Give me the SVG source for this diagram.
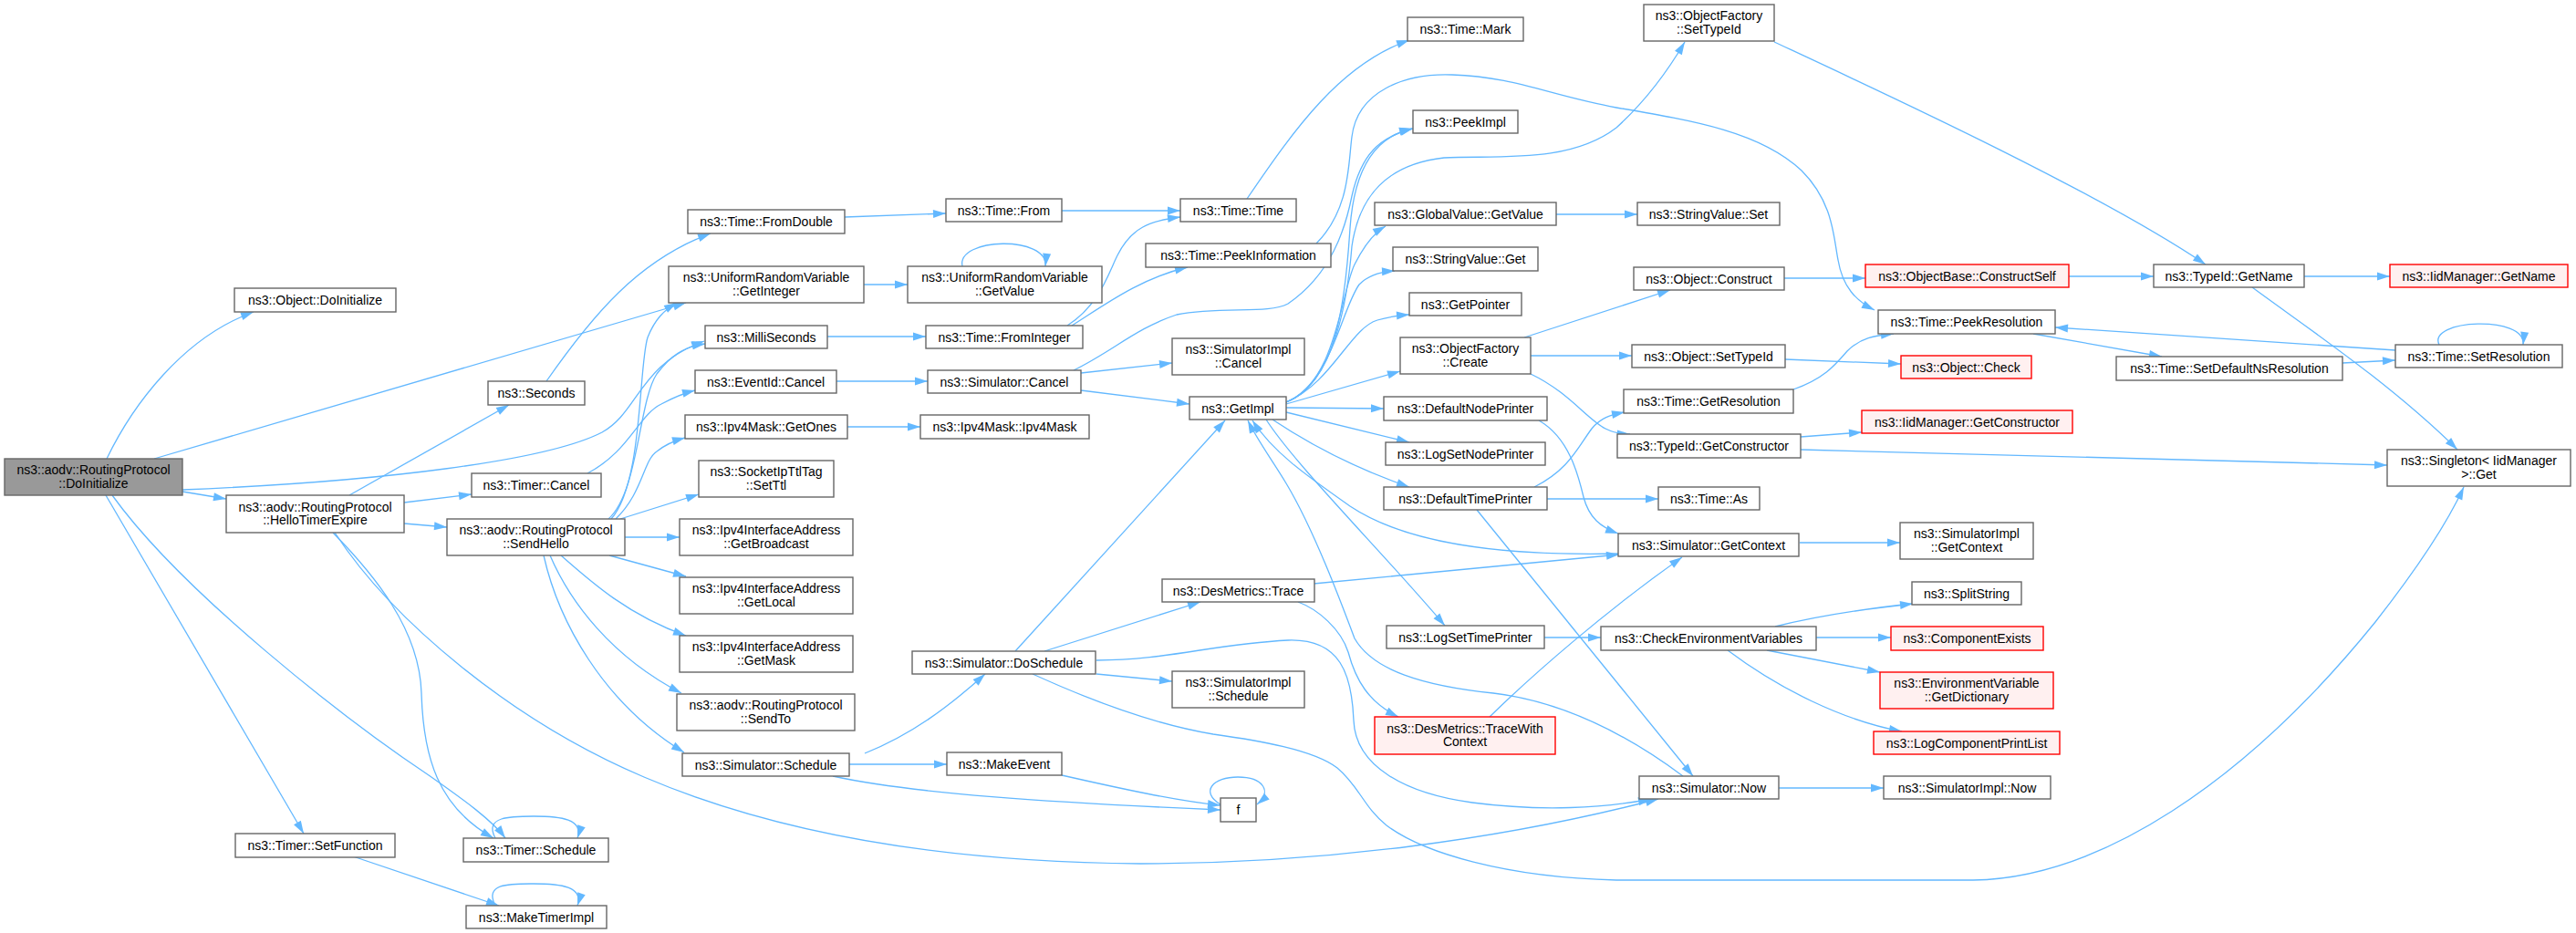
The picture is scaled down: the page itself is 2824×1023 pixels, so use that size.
<svg xmlns="http://www.w3.org/2000/svg" width="2824" height="1023" viewBox="0 0 2824 1023">
<style>
.n rect{fill:#ffffff;stroke:#666666;stroke-width:1.4}
.r rect{fill:#fff0f0;stroke:#ff0000;stroke-width:1.4}
.g rect{fill:#999999;stroke:#666666;stroke-width:1.4}
text{font-family:'Liberation Sans',Arial,sans-serif;font-size:14px;text-anchor:middle;fill:#000000}
#edges path{fill:none;stroke:#63b8ff;stroke-width:1.3;marker-end:url(#a)}
</style>
<defs>
<marker id="a" markerWidth="14" markerHeight="10" refX="14" refY="5" orient="auto" markerUnits="userSpaceOnUse" overflow="visible"><path d="M0,0.5 L14,5 L0,9.5 z" fill="#63b8ff" stroke="none"/></marker>
</defs>
<rect x="0" y="0" width="2824" height="1023" fill="#ffffff"/>
<g id="edges">
<path d="M117,503 C145,445 200,370 278,342"/>
<path d="M169,503 L752,332"/>
<path d="M200,537 C420,528 600,505 660,474 C700,452 700,400 772,374"/>
<path d="M200,539 L248,547"/>
<path d="M116,543 L333,914"/>
<path d="M123,543 C200,650 380,790 470,850 C510,878 540,900 554,919"/>
<path d="M383,543 L558,444"/>
<path d="M443,551 L517,542"/>
<path d="M443,574 L490,578"/>
<path d="M365,584 C410,630 460,690 462,760 C464,830 480,885 541,919"/>
<path d="M367,584 C430,680 560,790 706,852 C830,905 1000,945 1250,947 C1450,947 1650,920 1818,876"/>
<path d="M599,418 C650,345 700,285 779,256"/>
<path d="M644,519 C690,495 700,455 725,443 C740,435 750,431 762,428"/>
<path d="M667,569 C700,540 700,440 720,410 C735,390 750,380 773,377"/>
<path d="M670,569 C705,530 700,400 710,370 C718,350 728,340 742,332"/>
<path d="M675,569 C705,540 705,505 720,495 C730,487 740,483 751,480"/>
<path d="M680,569 L766,542"/>
<path d="M685,589 L745,589"/>
<path d="M668,609 L752,632"/>
<path d="M615,609 C650,640 690,675 752,697"/>
<path d="M603,609 C625,660 670,720 747,760"/>
<path d="M596,609 C612,680 660,770 750,825"/>
<path d="M926,238 L1037,234"/>
<path d="M1164,231 L1294,231"/>
<path d="M1367,218 C1420,140 1470,70 1545,44"/>
<path d="M947,312 L995,312"/>
<path d="M1055,292 C1048,260 1150,258 1146,292"/>
<path d="M907,369 L1015,369"/>
<path d="M1170,357 C1205,335 1215,300 1225,280 C1240,250 1260,242 1294,238"/>
<path d="M1175,357 C1210,335 1250,305 1302,293"/>
<path d="M1443,267 C1480,230 1478,180 1482,150 C1488,100 1540,80 1592,82 C1660,84 1700,105 1772,118 C1860,133 1930,145 1975,187 C2010,222 2010,260 2015,285 C2020,315 2035,330 2055,340"/>
<path d="M1185,409 L1285,398"/>
<path d="M1185,428 L1304,443"/>
<path d="M1177,406 C1220,385 1245,360 1290,345 C1340,335 1390,345 1412,333 C1460,300 1475,250 1482,215 C1492,170 1512,150 1549,141"/>
<path d="M917,418 L1017,418"/>
<path d="M929,468 L1009,468"/>
<path d="M948,826 C1000,805 1040,775 1080,739"/>
<path d="M931,838 L1038,838"/>
<path d="M913,851 C1000,870 1150,880 1338,888"/>
<path d="M1164,850 C1230,865 1290,878 1338,883"/>
<path d="M1338,882 C1315,868 1330,852 1357,852 C1385,852 1395,868 1378,882"/>
<path d="M1202,739 L1285,747"/>
<path d="M1145,714 L1316,660"/>
<path d="M1113,714 L1343,461"/>
<path d="M1202,724 C1280,724 1330,706 1412,702 C1470,700 1482,740 1484,790 C1486,840 1540,870 1614,880 C1690,890 1760,886 1810,876"/>
<path d="M1132,739 C1200,770 1270,795 1330,805 C1380,812 1440,822 1466,842 C1490,862 1495,885 1520,905 C1560,935 1650,962 1772,965 L2163,965 C2300,963 2460,860 2604,682 C2640,636 2680,580 2701,534"/>
<path d="M1440,640 L1775,608"/>
<path d="M1423,660 C1445,668 1470,690 1478,715 C1486,745 1500,770 1533,786"/>
<path d="M1633,786 C1680,740 1760,670 1844,611"/>
<path d="M1410,441 C1465,420 1475,330 1480,250 C1485,180 1510,150 1548,141"/>
<path d="M1410,441 C1465,420 1478,320 1482,270 C1490,215 1520,180 1583,173 C1640,170 1720,180 1772,140 C1805,110 1830,75 1847,46"/>
<path d="M1410,441 C1465,420 1470,320 1485,290 C1495,270 1505,256 1519,248"/>
<path d="M1410,441 C1460,420 1470,340 1490,312 C1500,302 1512,298 1529,297"/>
<path d="M1410,441 C1460,420 1480,360 1510,351 C1520,348 1532,346 1545,345"/>
<path d="M1410,443 L1535,407"/>
<path d="M1410,447 L1517,448"/>
<path d="M1410,452 L1545,485"/>
<path d="M1395,460 C1440,490 1490,515 1545,534"/>
<path d="M1388,460 C1420,510 1520,610 1584,686"/>
<path d="M1775,607 C1640,610 1540,595 1480,555 C1430,520 1395,495 1373,461"/>
<path d="M1845,851 C1790,810 1720,770 1637,760 C1560,752 1505,735 1485,700 C1470,660 1440,580 1410,530 C1395,505 1378,482 1368,461"/>
<path d="M1706,235 L1795,235"/>
<path d="M1678,390 L1789,390"/>
<path d="M1678,410 C1720,430 1740,460 1760,470 C1770,475 1778,476 1787,476"/>
<path d="M1671,370 L1831,318"/>
<path d="M1956,305 L2045,305"/>
<path d="M2268,303 L2361,303"/>
<path d="M2526,303 L2620,303"/>
<path d="M2469,315 C2530,360 2620,420 2694,493"/>
<path d="M1945,46 C2050,95 2300,210 2418,290"/>
<path d="M1957,394 L2084,399"/>
<path d="M1974,479 L2041,474"/>
<path d="M1974,493 L2617,510"/>
<path d="M1966,427 C2000,415 2012,400 2025,385 C2040,370 2055,368 2076,366"/>
<path d="M2229,366 L2370,391"/>
<path d="M2568,398 L2626,395"/>
<path d="M2626,384 L2253,359"/>
<path d="M2674,378 C2660,350 2770,345 2766,378"/>
<path d="M1687,461 C1720,480 1730,520 1736,545 C1742,568 1755,578 1774,585"/>
<path d="M1682,534 C1720,515 1730,490 1745,470 C1755,458 1765,455 1781,452"/>
<path d="M1696,547 L1818,547"/>
<path d="M1619,559 L1856,851"/>
<path d="M1693,699 L1755,699"/>
<path d="M1946,687 C1990,676 2040,668 2097,662"/>
<path d="M1991,699 L2073,699"/>
<path d="M1937,713 L2061,737"/>
<path d="M1894,713 C1950,755 2020,790 2085,802"/>
<path d="M1950,864 L2065,864"/>
<path d="M1973,595 L2083,595"/>
<path d="M387,939 L547,993"/>
<path d="M543,993 C530,968 560,969 585,969 C615,969 640,972 633,993"/>
<path d="M543,919 C530,895 560,895 585,895 C615,895 640,898 633,919"/>
</g>
<g id="root" class="g"><rect x="5" y="503" width="195" height="40"/><text x="102.5" y="520">ns3::aodv::RoutingProtocol</text><text x="102.5" y="534.5">::DoInitialize</text></g>
<g id="objinit" class="n"><rect x="257" y="316" width="177" height="26"/><text x="345.5" y="334">ns3::Object::DoInitialize</text></g>
<g id="hello" class="n"><rect x="248" y="543" width="195" height="41"/><text x="345.5" y="560.5">ns3::aodv::RoutingProtocol</text><text x="345.5" y="575">::HelloTimerExpire</text></g>
<g id="setfn" class="n"><rect x="258" y="914" width="175" height="26"/><text x="345.5" y="932">ns3::Timer::SetFunction</text></g>
<g id="seconds" class="n"><rect x="535" y="418" width="106" height="26"/><text x="588" y="436">ns3::Seconds</text></g>
<g id="tcancel" class="n"><rect x="517" y="519" width="142" height="26"/><text x="588" y="537">ns3::Timer::Cancel</text></g>
<g id="sendhello" class="n"><rect x="490" y="569" width="195" height="40"/><text x="587.5" y="586">ns3::aodv::RoutingProtocol</text><text x="587.5" y="600.5">::SendHello</text></g>
<g id="tsched" class="n"><rect x="508" y="919" width="159" height="26"/><text x="587.5" y="937">ns3::Timer::Schedule</text></g>
<g id="mktimer" class="n"><rect x="511" y="993" width="154" height="25"/><text x="588" y="1010.5">ns3::MakeTimerImpl</text></g>
<g id="fromdouble" class="n"><rect x="754" y="230" width="172" height="26"/><text x="840" y="248">ns3::Time::FromDouble</text></g>
<g id="getint" class="n"><rect x="733" y="292" width="214" height="40"/><text x="840" y="309">ns3::UniformRandomVariable</text><text x="840" y="323.5">::GetInteger</text></g>
<g id="milli" class="n"><rect x="773" y="357" width="134" height="25"/><text x="840" y="374.5">ns3::MilliSeconds</text></g>
<g id="eidcancel" class="n"><rect x="762" y="406" width="155" height="25"/><text x="839.5" y="423.5">ns3::EventId::Cancel</text></g>
<g id="getones" class="n"><rect x="751" y="455" width="178" height="26"/><text x="840" y="473">ns3::Ipv4Mask::GetOnes</text></g>
<g id="setttl" class="n"><rect x="766" y="505" width="148" height="40"/><text x="840" y="522">ns3::SocketIpTtlTag</text><text x="840" y="536.5">::SetTtl</text></g>
<g id="bcast" class="n"><rect x="745" y="569" width="190" height="40"/><text x="840" y="586">ns3::Ipv4InterfaceAddress</text><text x="840" y="600.5">::GetBroadcast</text></g>
<g id="local" class="n"><rect x="745" y="633" width="190" height="40"/><text x="840" y="650">ns3::Ipv4InterfaceAddress</text><text x="840" y="664.5">::GetLocal</text></g>
<g id="mask" class="n"><rect x="745" y="697" width="190" height="40"/><text x="840" y="714">ns3::Ipv4InterfaceAddress</text><text x="840" y="728.5">::GetMask</text></g>
<g id="sendto" class="n"><rect x="742" y="761" width="195" height="40"/><text x="839.5" y="778">ns3::aodv::RoutingProtocol</text><text x="839.5" y="792.5">::SendTo</text></g>
<g id="ssched" class="n"><rect x="748" y="826" width="183" height="25"/><text x="839.5" y="843.5">ns3::Simulator::Schedule</text></g>
<g id="from" class="n"><rect x="1037" y="218" width="127" height="25"/><text x="1100.5" y="235.5">ns3::Time::From</text></g>
<g id="getval" class="n"><rect x="995" y="292" width="213" height="40"/><text x="1101.5" y="309">ns3::UniformRandomVariable</text><text x="1101.5" y="323.5">::GetValue</text></g>
<g id="fromint" class="n"><rect x="1015" y="357" width="172" height="25"/><text x="1101" y="374.5">ns3::Time::FromInteger</text></g>
<g id="scancel" class="n"><rect x="1017" y="406" width="168" height="25"/><text x="1101" y="423.5">ns3::Simulator::Cancel</text></g>
<g id="ipv4mask" class="n"><rect x="1009" y="455" width="185" height="26"/><text x="1101.5" y="473">ns3::Ipv4Mask::Ipv4Mask</text></g>
<g id="dosched" class="n"><rect x="1000" y="714" width="201" height="25"/><text x="1100.5" y="731.5">ns3::Simulator::DoSchedule</text></g>
<g id="mkevent" class="n"><rect x="1038" y="825" width="126" height="25"/><text x="1101" y="842.5">ns3::MakeEvent</text></g>
<g id="time" class="n"><rect x="1294" y="218" width="127" height="25"/><text x="1357.5" y="235.5">ns3::Time::Time</text></g>
<g id="peekinfo" class="n"><rect x="1256" y="267" width="203" height="26"/><text x="1357.5" y="285">ns3::Time::PeekInformation</text></g>
<g id="sicancel" class="n"><rect x="1285" y="371" width="145" height="40"/><text x="1357.5" y="388">ns3::SimulatorImpl</text><text x="1357.5" y="402.5">::Cancel</text></g>
<g id="getimpl" class="n"><rect x="1304" y="435" width="106" height="25"/><text x="1357" y="452.5">ns3::GetImpl</text></g>
<g id="trace" class="n"><rect x="1274" y="635" width="167" height="25"/><text x="1357.5" y="652.5">ns3::DesMetrics::Trace</text></g>
<g id="sisched" class="n"><rect x="1285" y="736" width="145" height="40"/><text x="1357.5" y="753">ns3::SimulatorImpl</text><text x="1357.5" y="767.5">::Schedule</text></g>
<g id="f" class="n"><rect x="1338" y="875" width="39" height="26"/><text x="1357.5" y="893">f</text></g>
<g id="mark" class="n"><rect x="1543" y="19" width="127" height="26"/><text x="1606.5" y="37">ns3::Time::Mark</text></g>
<g id="peekimpl" class="n"><rect x="1549" y="121" width="115" height="25"/><text x="1606.5" y="138.5">ns3::PeekImpl</text></g>
<g id="gvget" class="n"><rect x="1507" y="222" width="199" height="25"/><text x="1606.5" y="239.5">ns3::GlobalValue::GetValue</text></g>
<g id="svget" class="n"><rect x="1527" y="271" width="159" height="26"/><text x="1606.5" y="289">ns3::StringValue::Get</text></g>
<g id="getptr" class="n"><rect x="1545" y="321" width="123" height="25"/><text x="1606.5" y="338.5">ns3::GetPointer</text></g>
<g id="create" class="n"><rect x="1535" y="370" width="143" height="40"/><text x="1606.5" y="387">ns3::ObjectFactory</text><text x="1606.5" y="401.5">::Create</text></g>
<g id="dnp" class="n"><rect x="1517" y="435" width="179" height="26"/><text x="1606.5" y="453">ns3::DefaultNodePrinter</text></g>
<g id="lsnp" class="n"><rect x="1519" y="485" width="175" height="25"/><text x="1606.5" y="502.5">ns3::LogSetNodePrinter</text></g>
<g id="dtp" class="n"><rect x="1517" y="534" width="179" height="25"/><text x="1606.5" y="551.5">ns3::DefaultTimePrinter</text></g>
<g id="lstp" class="n"><rect x="1520" y="686" width="173" height="25"/><text x="1606.5" y="703.5">ns3::LogSetTimePrinter</text></g>
<g id="twc" class="r"><rect x="1507" y="786" width="198" height="41"/><text x="1606" y="803.5">ns3::DesMetrics::TraceWith</text><text x="1606" y="818">Context</text></g>
<g id="ofsettid" class="n"><rect x="1802" y="5" width="143" height="40"/><text x="1873.5" y="22">ns3::ObjectFactory</text><text x="1873.5" y="36.5">::SetTypeId</text></g>
<g id="svset" class="n"><rect x="1795" y="222" width="156" height="25"/><text x="1873" y="239.5">ns3::StringValue::Set</text></g>
<g id="oconstruct" class="n"><rect x="1791" y="293" width="165" height="25"/><text x="1873.5" y="310.5">ns3::Object::Construct</text></g>
<g id="osettid" class="n"><rect x="1789" y="378" width="168" height="25"/><text x="1873" y="395.5">ns3::Object::SetTypeId</text></g>
<g id="getres" class="n"><rect x="1780" y="427" width="186" height="26"/><text x="1873" y="445">ns3::Time::GetResolution</text></g>
<g id="getctor" class="n"><rect x="1773" y="476" width="201" height="26"/><text x="1873.5" y="494">ns3::TypeId::GetConstructor</text></g>
<g id="as" class="n"><rect x="1818" y="534" width="111" height="25"/><text x="1873.5" y="551.5">ns3::Time::As</text></g>
<g id="getctx" class="n"><rect x="1774" y="585" width="198" height="25"/><text x="1873" y="602.5">ns3::Simulator::GetContext</text></g>
<g id="checkenv" class="n"><rect x="1755" y="687" width="236" height="26"/><text x="1873" y="705">ns3::CheckEnvironmentVariables</text></g>
<g id="now" class="n"><rect x="1797" y="851" width="153" height="25"/><text x="1873.5" y="868.5">ns3::Simulator::Now</text></g>
<g id="cself" class="r"><rect x="2045" y="290" width="223" height="25"/><text x="2156.5" y="307.5">ns3::ObjectBase::ConstructSelf</text></g>
<g id="peekres" class="n"><rect x="2059" y="340" width="194" height="26"/><text x="2156" y="358">ns3::Time::PeekResolution</text></g>
<g id="check" class="r"><rect x="2084" y="390" width="143" height="25"/><text x="2155.5" y="407.5">ns3::Object::Check</text></g>
<g id="iidctor" class="r"><rect x="2041" y="450" width="231" height="25"/><text x="2156.5" y="467.5">ns3::IidManager::GetConstructor</text></g>
<g id="sictx" class="n"><rect x="2083" y="573" width="146" height="40"/><text x="2156" y="590">ns3::SimulatorImpl</text><text x="2156" y="604.5">::GetContext</text></g>
<g id="split" class="n"><rect x="2096" y="638" width="120" height="25"/><text x="2156" y="655.5">ns3::SplitString</text></g>
<g id="compexists" class="r"><rect x="2073" y="687" width="167" height="26"/><text x="2156.5" y="705">ns3::ComponentExists</text></g>
<g id="getdict" class="r"><rect x="2061" y="737" width="190" height="40"/><text x="2156" y="754">ns3::EnvironmentVariable</text><text x="2156" y="768.5">::GetDictionary</text></g>
<g id="lcpl" class="r"><rect x="2054" y="802" width="204" height="25"/><text x="2156" y="819.5">ns3::LogComponentPrintList</text></g>
<g id="sinow" class="n"><rect x="2065" y="851" width="183" height="25"/><text x="2156.5" y="868.5">ns3::SimulatorImpl::Now</text></g>
<g id="tidname" class="n"><rect x="2361" y="290" width="165" height="25"/><text x="2443.5" y="307.5">ns3::TypeId::GetName</text></g>
<g id="setdefns" class="n"><rect x="2320" y="391" width="248" height="26"/><text x="2444" y="409">ns3::Time::SetDefaultNsResolution</text></g>
<g id="iidname" class="r"><rect x="2620" y="290" width="195" height="25"/><text x="2717.5" y="307.5">ns3::IidManager::GetName</text></g>
<g id="setres" class="n"><rect x="2626" y="378" width="183" height="25"/><text x="2717.5" y="395.5">ns3::Time::SetResolution</text></g>
<g id="singleton" class="n"><rect x="2617" y="493" width="201" height="40"/><text x="2717.5" y="510">ns3::Singleton&lt; IidManager</text><text x="2717.5" y="524.5">&gt;::Get</text></g>
</svg>
